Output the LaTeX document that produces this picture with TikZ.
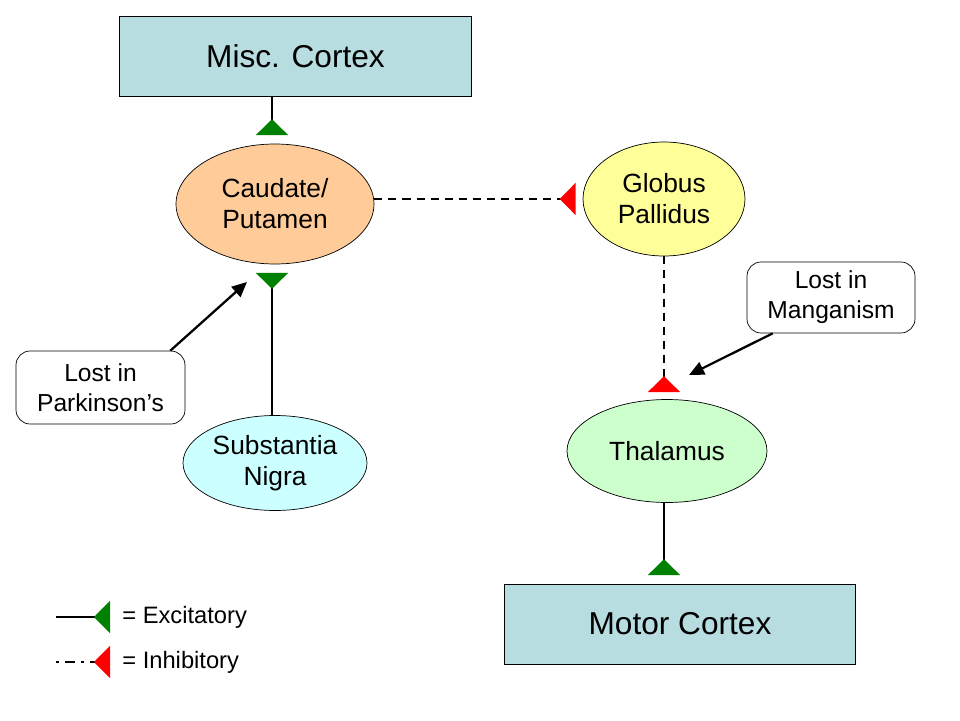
\documentclass[tikz,border=0pt]{standalone}
\usepackage{fontspec}
\setmainfont{Liberation Sans}
\usetikzlibrary{
    arrows.meta,
    shapes.geometric
}
\definecolor{cortexblue}{HTML}{B7DDE0}
\definecolor{caudatepeach}{HTML}{FFCC99}
\definecolor{pallidusyellow}{HTML}{FFFF99}
\definecolor{nigracyan}{HTML}{CCFFFF}
\definecolor{thalamusgreen}{HTML}{CCFFCC}
\definecolor{excgreen}{HTML}{008000}
\definecolor{inhred}{HTML}{FF0000}
\tikzset{
    >=Stealth,
    cortex/.style={
        draw,
        fill=cortexblue,
        minimum width=7.03cm,
        minimum height=1.6cm,
        font=\fontsize{18}{21}\selectfont
    },
    nucleus/.style={
        ellipse,
        draw,
        inner sep=0pt,
        align=center,
        font=\fontsize{15}{17.6}\selectfont
    },
    note/.style={
        draw,
        rounded corners=8pt,
        fill=white,
        align=center,
        font=\fontsize{14}{17.2}\selectfont
    },
    excite/.style={
        line width=1.3pt,
        -{Triangle[reversed, length=0.32cm, width=0.64cm, color=excgreen, fill=excgreen]},
        shorten >=0.17cm
    },
    inhibit/.style={
        line width=1.3pt,
        dash pattern=on 4.6pt off 3.4pt,
        -{Triangle[reversed, length=0.32cm, width=0.64cm, color=inhred, fill=inhred]},
        shorten >=0.14cm
    },
    pointer/.style={
        line width=1.3pt,
        -{Triangle[length=0.3cm, width=0.27cm]}
    }
}

\begin{document}
\begin{tikzpicture}[x=0.02cm, y=-0.02cm]

    \useasboundingbox (0,0) rectangle (960,720);

    % Cortex
    \node[cortex] (misc)  at (295.5,56) {Misc. Cortex};
    \node[cortex] (motor) at (680,624)  {Motor Cortex};

    % Nuclei
    \node[nucleus, fill=caudatepeach, minimum width=3.96cm, minimum height=2.4cm]
        (caudate) at (275,204) {Caudate/\\Putamen};
    \node[nucleus, fill=pallidusyellow, minimum width=3.24cm, minimum height=2.28cm]
        (pallidus) at (664,199) {Globus\\Pallidus};
    \node[nucleus, fill=nigracyan, minimum width=3.68cm, minimum height=1.9cm]
        (nigra) at (275,463) {Substantia\\Nigra};
    \node[nucleus, fill=thalamusgreen, minimum width=4.0cm, minimum height=2.06cm]
        (thalamus) at (667,451) {Thalamus};

    % Notes
    \node[note, minimum width=3.38cm, minimum height=1.46cm]
        (parkinson) at (100.5,387.5) {Lost in\\Parkinson’s};
    \node[note, minimum width=3.36cm, minimum height=1.42cm]
        (manganism) at (831,297.5) {Lost in\\Manganism};
    \coordinate (parktip)  at (247,282);
    \coordinate (mangtip)  at (689,375);

    % Connections
    \draw[excite]  ([xshift=-0.06cm]caudate.north |- misc.south) -- ([xshift=-0.06cm]caudate.north);
    \draw[excite]  ([xshift=-0.06cm]nigra.north) -- ([xshift=-0.06cm]caudate.south);
    \draw[inhibit] (caudate.east |- pallidus.west) -- (pallidus.west);
    \draw[inhibit] (pallidus.south) -- (pallidus.south |- thalamus.north);
    \draw[excite]  ([xshift=-0.06cm]thalamus.south) -- ([xshift=-0.06cm]thalamus.south |- motor.north);

    \draw[pointer] ([xshift=-15*0.02cm]parkinson.north east) -- (parktip);
    \draw[pointer] ([xshift=26*0.02cm]manganism.south west) -- (mangtip);

    % Legend
    \coordinate (excstart) at (56,617);
    \coordinate (excend)   at (110,617);
    \coordinate (inhstart) at (56,662);
    \coordinate (inhend)   at (110,662);
    \node[anchor=west, inner sep=0pt, font=\fontsize{13.5}{16}\selectfont]
        (exctext) at (122,617) {= Excitatory};
    \node[anchor=west, inner sep=0pt, font=\fontsize{13.5}{16}\selectfont]
        (inhtext) at (122,662) {= Inhibitory};
    \draw[excite, shorten >=0pt]  (excstart) -- (excend);
    \draw[inhibit, shorten >=0pt, dash pattern=on 1.5pt off 3.5pt on 6pt off 3.5pt]
        (inhstart) -- (inhend);

\end{tikzpicture}
\end{document}
